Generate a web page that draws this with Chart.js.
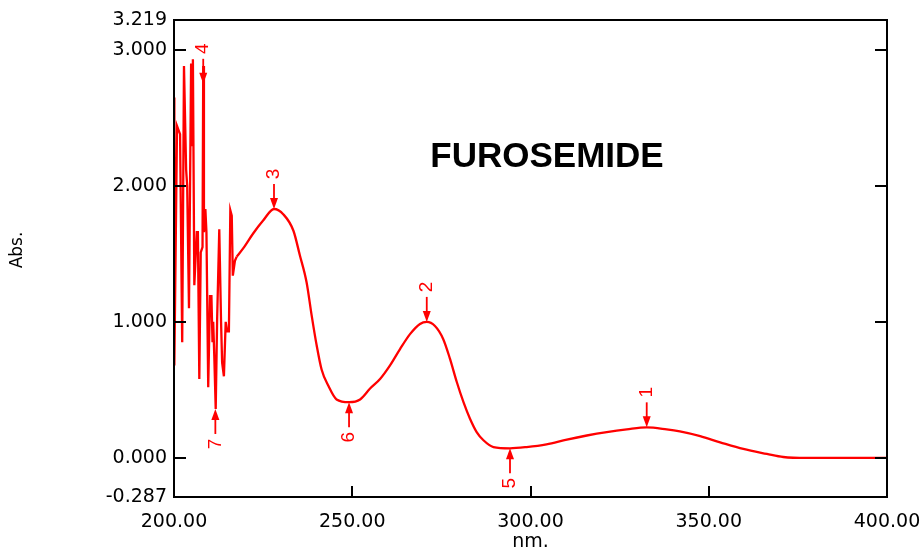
<!DOCTYPE html>
<html>
<head>
<meta charset="utf-8">
<script src="https://cdn.jsdelivr.net/npm/chart.js@4.4.0/dist/chart.umd.min.js"></script>
<style>
html, body { margin: 0; padding: 0; background: #fff; }
</style>
</head>
<body>
<canvas id="spectrum" width="921" height="549"></canvas>
<script>
// spectrum (nm, Abs.)
// noisy start, drawn with straight segments
var noisyNm = [200.0, 200.1, 200.85, 201.7, 202.3, 202.8, 203.4, 203.7, 204.2, 204.8, 205.05, 205.3, 205.7,
  206.4, 206.7, 207.1, 207.5, 208.0, 208.2, 208.4, 208.8, 209.1, 209.6, 210.1, 210.5, 210.8, 211.0, 211.3,
  211.7, 212.1, 212.7, 213.2, 213.5, 214.0, 214.5, 214.9, 215.4, 215.8, 216.2, 216.5, 217.1, 217.6];
var noisyAbs = [2.65, 0.68, 2.44, 2.38, 0.85, 2.88, 2.12, 2.0, 1.10, 2.90, 2.3, 2.93, 1.27,
  1.66, 1.66, 0.58, 1.51, 1.55, 2.88, 1.66, 1.83, 1.66, 0.52, 1.19, 1.19, 0.85, 1.0, 0.75,
  0.36, 1.02, 1.68, 1.0, 0.70, 0.60, 1.0, 0.93, 0.93, 1.82, 1.78, 1.34, 1.45, 1.48];
// smooth band part
var smoothNm = [217.6, 219.4, 222.2, 225.0, 228.05, 230.7, 233.5, 235.3, 237.2, 238.6, 240.0, 241.4, 243.3, 245.6, 249.1,
  252.2, 255.0, 257.8, 260.6, 263.4, 266.2, 269.0, 270.9, 273.2, 275.5, 277.4, 279.3, 281.2, 283.0,
  284.9, 286.8, 289.6, 294.25, 298.9, 304.5, 310.2, 315.8, 321.4, 327.0, 332.6, 338.2, 341.9, 347.6,
  353.2, 359.7, 366.3, 370.9, 377.5, 400.0];
var smoothAbs = [1.48, 1.54, 1.65, 1.745, 1.83, 1.79, 1.67, 1.49, 1.29, 1.05, 0.83, 0.65, 0.53, 0.43, 0.41,
  0.43, 0.51, 0.58, 0.68, 0.80, 0.91, 0.985, 1.00, 0.97, 0.875, 0.73, 0.56, 0.41, 0.29,
  0.19, 0.13, 0.08, 0.071, 0.08, 0.10, 0.135, 0.165, 0.19, 0.21, 0.225, 0.21, 0.195, 0.16,
  0.115, 0.066, 0.03, 0.007, 0.0, 0.0];

var xTicks = [200, 250, 300, 350, 400];
var yTicks = [-0.287, 0, 1, 2, 3, 3.219];

// peak / valley picks
var peakNames = ['1', '2', '3', '4'];
var peakNm = [332.6, 270.9, 228.05, 208.2];
var peakAbs = [0.225, 1.0, 1.83, 2.75];
var valleyNames = ['5', '6', '7'];
var valleyNm = [294.25, 249.1, 211.6];
var valleyAbs = [0.071, 0.41, 0.36];

function toPoints(xs, ys) {
  return xs.map(function (w, i) { return { x: w, y: ys[i] }; });
}

function arrow(ctx, px, py, dir) {
  // dir = 1 arrow comes from above, -1 from below
  ctx.beginPath();
  ctx.moveTo(px, py - dir * 25);
  ctx.lineTo(px, py - dir * 8);
  ctx.stroke();
  ctx.beginPath();
  ctx.moveTo(px, py);
  ctx.lineTo(px - 4, py - dir * 11);
  ctx.lineTo(px + 4, py - dir * 11);
  ctx.closePath();
  ctx.fill();
}

function rotText(ctx, txt, px, py) {
  ctx.save();
  ctx.translate(px, py);
  ctx.rotate(-Math.PI / 2);
  ctx.fillText(txt, 0, 0);
  ctx.restore();
}

var decor = {
  id: 'decor',
  afterDatasetsDraw: function (chart) {
    var ctx = chart.ctx, a = chart.chartArea;
    var xs = chart.scales.x, ys = chart.scales.y;
    ctx.save();
    // frame
    ctx.strokeStyle = '#000';
    ctx.lineWidth = 2;
    ctx.strokeRect(a.left, a.top, a.right - a.left, a.bottom - a.top);
    // inward tick marks
    ctx.beginPath();
    yTicks.slice(1, -1).forEach(function (v) {
      var py = Math.round(ys.getPixelForValue(v));
      ctx.moveTo(a.left, py); ctx.lineTo(a.left + 12, py);
      ctx.moveTo(a.right, py); ctx.lineTo(a.right - 12, py);
    });
    xTicks.slice(1, -1).forEach(function (v) {
      var px = Math.round(xs.getPixelForValue(v));
      ctx.moveTo(px, a.bottom); ctx.lineTo(px, a.bottom - 11);
    });
    ctx.stroke();

    // peak and valley arrows
    ctx.strokeStyle = 'rgb(255,0,0)';
    ctx.fillStyle = 'rgb(255,0,0)';
    ctx.lineWidth = 1.8;
    ctx.font = '19px "Liberation Sans", Arial, sans-serif';
    ctx.textAlign = 'center';
    ctx.textBaseline = 'middle';
    peakNm.forEach(function (w, i) {
      var px = xs.getPixelForValue(w), py = ys.getPixelForValue(peakAbs[i]);
      arrow(ctx, px, py, 1);
      rotText(ctx, peakNames[i], px, py - 35);
    });
    valleyNm.forEach(function (w, i) {
      var px = xs.getPixelForValue(w), py = ys.getPixelForValue(valleyAbs[i]);
      arrow(ctx, px, py, -1);
      rotText(ctx, valleyNames[i], px, py + 35);
    });

    // texts
    ctx.fillStyle = '#000';
    ctx.font = 'bold 35px "Liberation Sans", Arial, sans-serif';
    ctx.textBaseline = 'alphabetic';
    ctx.fillText('FUROSEMIDE', 547, 167);
    ctx.font = '19px "DejaVu Sans", sans-serif';
    ctx.fillText('nm.', (a.left + a.right) / 2, 547);
    ctx.font = '17px "DejaVu Sans", sans-serif';
    ctx.textBaseline = 'middle';
    rotText(ctx, 'Abs.', 18, 250);
    ctx.restore();
  }
};

var tickFont = { family: '"DejaVu Sans", sans-serif', size: 19 };

new Chart(document.getElementById('spectrum').getContext('2d'), {
  type: 'line',
  data: {
    datasets: [{
      data: toPoints(noisyNm, noisyAbs),
      borderColor: 'rgb(255,0,0)',
      borderWidth: 2.3,
      pointRadius: 0,
      tension: 0,
      fill: false
    }, {
      data: toPoints(smoothNm, smoothAbs),
      borderColor: 'rgb(255,0,0)',
      borderWidth: 2.3,
      pointRadius: 0,
      cubicInterpolationMode: 'monotone',
      fill: false
    }]
  },
  options: {
    responsive: false,
    animation: false,
    layout: { padding: { left: 0, right: 34, top: 20, bottom: 0 } },
    plugins: { legend: { display: false }, tooltip: { enabled: false } },
    scales: {
      x: {
        type: 'linear',
        min: 200,
        max: 400,
        afterBuildTicks: function (s) { s.ticks = xTicks.map(function (v) { return { value: v }; }); },
        afterFit: function (s) { s.height = 52; s.paddingLeft = 0; s.paddingRight = 0; },
        grid: { display: false, drawTicks: false },
        border: { display: false },
        ticks: {
          autoSkip: false,
          maxRotation: 0,
          padding: 14,
          color: '#000',
          font: tickFont,
          callback: function (v) { return Number(v).toFixed(2); }
        }
      },
      y: {
        min: -0.287,
        max: 3.219,
        afterBuildTicks: function (s) { s.ticks = yTicks.map(function (v) { return { value: v }; }); },
        afterFit: function (s) { s.width = 174; s.paddingTop = 0; s.paddingBottom = 0; },
        grid: { display: false, drawTicks: false },
        border: { display: false },
        ticks: {
          padding: 7,
          color: '#000',
          font: tickFont,
          callback: function (v) { return Number(v).toFixed(3); }
        }
      }
    }
  },
  plugins: [decor]
});
</script>
</body>
</html>
